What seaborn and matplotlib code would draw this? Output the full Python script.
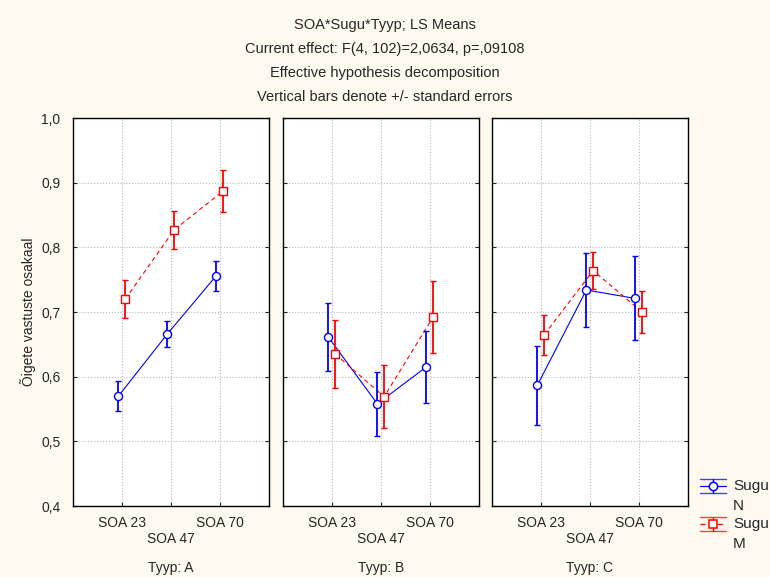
import numpy as np
import pandas as pd
import matplotlib
matplotlib.use("Agg")
import matplotlib.pyplot as plt
from matplotlib.lines import Line2D
import seaborn as sns

sns.set_style("white")
plt.rcParams['font.family'] = ['Liberation Sans', 'DejaVu Sans']

# ---- data ----
panels = ["A", "B", "C"]
soa_levels = ["SOA 23", "SOA 47", "SOA 70"]
groups = ["N", "M"]

mean_N = {"A": [0.570, 0.666, 0.756],
          "B": [0.661, 0.558, 0.615],
          "C": [0.587, 0.734, 0.721]}
se_N = {"A": [0.023, 0.020, 0.023],
        "B": [0.053, 0.049, 0.056],
        "C": [0.061, 0.057, 0.065]}
mean_M = {"A": [0.720, 0.827, 0.887],
          "B": [0.635, 0.569, 0.692],
          "C": [0.665, 0.764, 0.700]}
se_M = {"A": [0.030, 0.029, 0.032],
        "B": [0.053, 0.049, 0.056],
        "C": [0.031, 0.029, 0.032]}

title_lines = ["SOA*Sugu*Tyyp; LS Means",
               "Current effect: F(4, 102)=2,0634, p=,09108",
               "Effective hypothesis decomposition",
               "Vertical bars denote +/- standard errors"]
y_ticks = [0.4, 0.5, 0.6, 0.7, 0.8, 0.9, 1.0]
y_label = "Õigete vastuste osakaal"
legend_title = "Sugu"

rows = []
for p in panels:
    for i, s in enumerate(soa_levels):
        rows.append(dict(Tyyp=p, SOA=s, idx=i, Sugu="N", mean=mean_N[p][i], se=se_N[p][i]))
        rows.append(dict(Tyyp=p, SOA=s, idx=i, Sugu="M", mean=mean_M[p][i], se=se_M[p][i]))
df = pd.DataFrame(rows)

DASH = (0, (4, 3))
style = {"N": dict(color="#0000ff", marker="o", ls="-", off=-0.07),
         "M": dict(color="#ff0000", marker="s", ls=DASH, off=0.07)}

bg = "#fffaf0"
fig = plt.figure(figsize=(7.7, 5.77), dpi=100, facecolor=bg)
W, H = 770, 577
lefts = [73, 283, 492]
pw = 195.5
top, bottom = 118, 506

for k, p in enumerate(panels):
    ax = fig.add_axes([lefts[k] / W, 1 - bottom / H, pw / W, (bottom - top) / H])
    ax.set_facecolor("white")
    sub = df[df.Tyyp == p]
    for g in groups:
        st = style[g]
        d = sub[sub.Sugu == g].copy()
        d["x"] = d["idx"] + st["off"]
        sns.lineplot(data=d, x="x", y="mean", ax=ax, color=st["color"],
                     linestyle=st["ls"], linewidth=0.8, legend=False, zorder=2)
        ax.errorbar(d["x"], d["mean"], yerr=d["se"], fmt=st["marker"],
                    linestyle="none", color=st["color"], ecolor=st["color"],
                    elinewidth=1.3, capsize=2.5, capthick=1.1, markersize=5.8,
                    markerfacecolor="white", markeredgecolor=st["color"],
                    markeredgewidth=1.0, zorder=3)
    ax.set_xlim(-1, 3)
    ax.set_ylim(0.4, 1.0)
    ax.set_xticks(range(3))
    ax.set_xticklabels(["SOA 23", "\nSOA 47", "SOA 70"], fontsize=10)
    ax.set_yticks(y_ticks)
    if k == 0:
        ax.set_yticklabels([f"{v:.1f}".replace(".", ",") for v in y_ticks], fontsize=10)
        ax.set_ylabel(y_label, fontsize=10, labelpad=4)
    else:
        ax.set_yticklabels([])
        ax.set_ylabel("")
    ax.set_xlabel(f"Tyyp: {p}", fontsize=10, labelpad=11)
    ax.grid(True, color="#b8b8b8", linestyle=":", linewidth=0.8)
    ax.tick_params(axis="x", direction="in", length=3, bottom=True, top=False, pad=7)
    ax.tick_params(axis="y", direction="in", length=3, left=True, right=True, pad=9)
    for sp in ax.spines.values():
        sp.set_color("black")
        sp.set_linewidth(1.0)

for i, line in enumerate(title_lines):
    fig.text(0.5, 1 - (25 + 24 * i) / H, line, ha="center", va="center", fontsize=10.5)

# ---- legend (drawn in a pixel-coordinate overlay) ----
lax = fig.add_axes([0, 0, 1, 1], facecolor="none")
lax.set_xlim(0, W)
lax.set_ylim(H, 0)
lax.axis("off")
leg_y = {"N": 486, "M": 524}
for g in groups:
    st = style[g]
    y = leg_y[g]
    lax.add_line(Line2D([700, 726], [y, y], color=st["color"], lw=0.9, linestyle=st["ls"]))
    lax.add_line(Line2D([700, 726], [y - 7, y - 7], color=st["color"], lw=1.0, alpha=0.75))
    lax.add_line(Line2D([700, 726], [y + 7, y + 7], color=st["color"], lw=1.0, alpha=0.75))
    lax.add_line(Line2D([713, 713], [y - 7, y + 7], color=st["color"], lw=1.0))
    lax.plot([713], [y], marker=st["marker"], markersize=6, markerfacecolor="white",
             markeredgecolor=st["color"], markeredgewidth=1.1, linestyle="none")
    lax.text(733, y, legend_title, fontsize=11, va="center", ha="left")
    lax.text(733, y + 20, g, fontsize=11, va="center", ha="left")

fig.savefig("out.png", dpi=100, facecolor=bg)
